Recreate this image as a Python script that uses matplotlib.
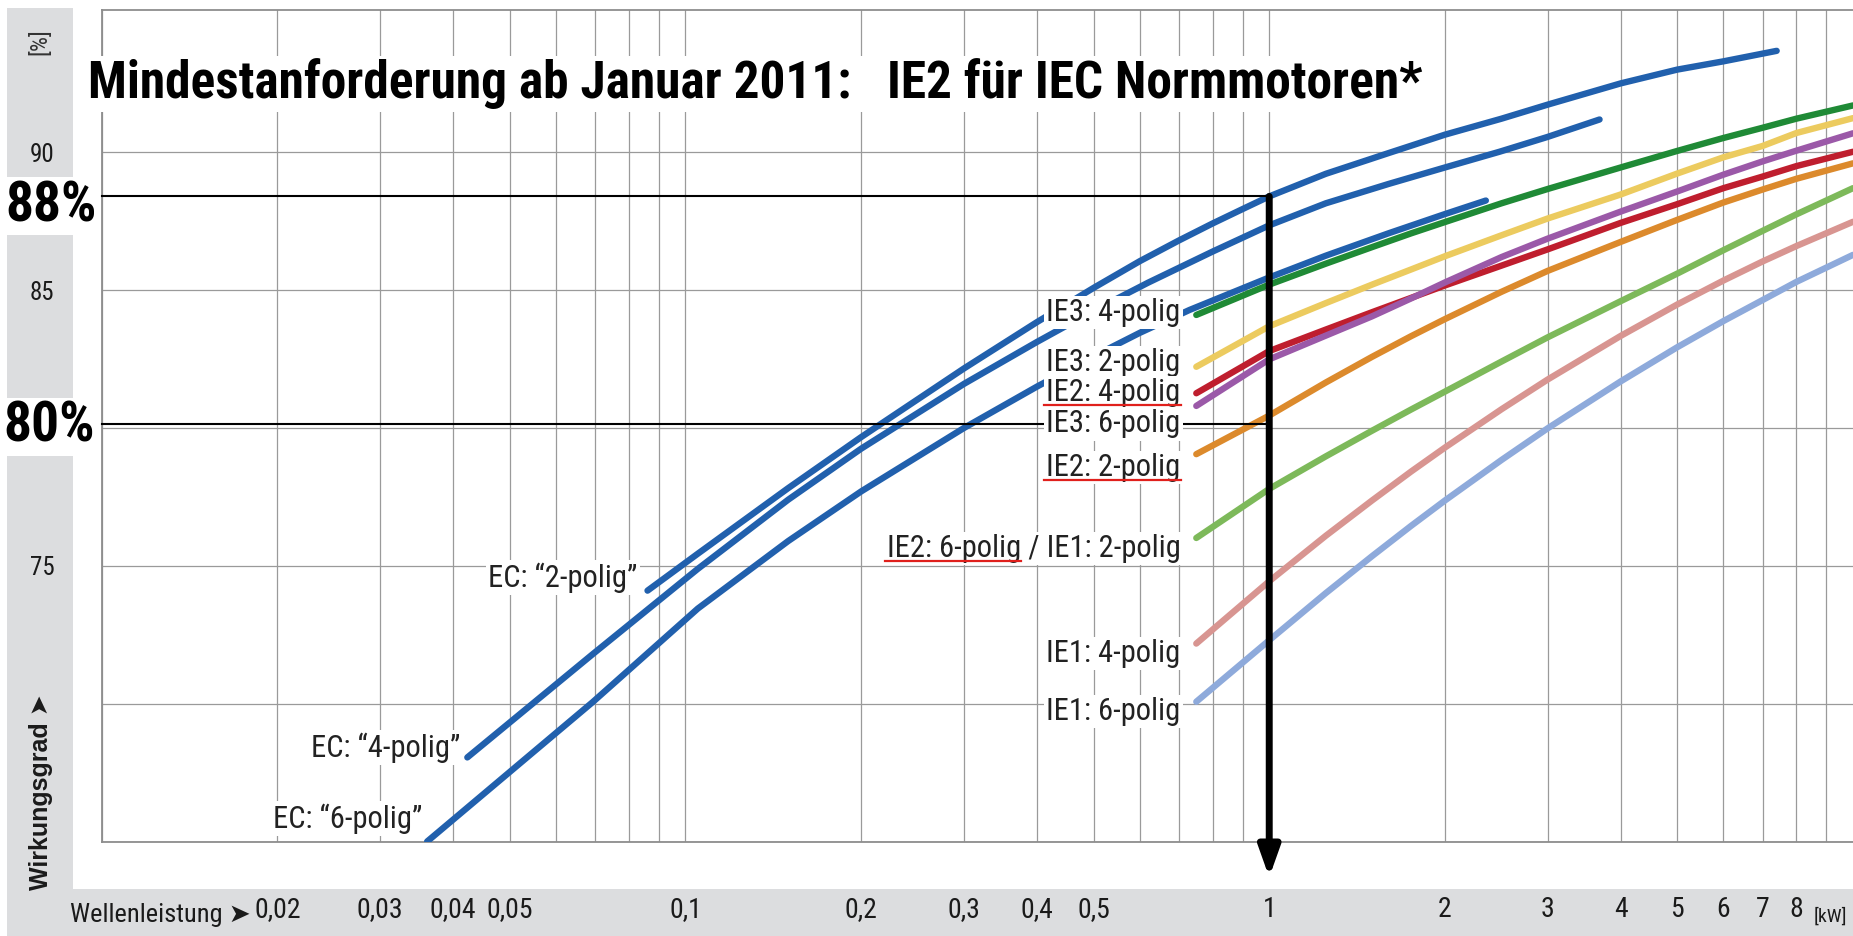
import numpy as np
import matplotlib
matplotlib.use('Agg')
import matplotlib.pyplot as plt
from matplotlib import font_manager as fm
from matplotlib.lines import Line2D
from matplotlib.patches import Rectangle
from matplotlib.transforms import IdentityTransform

# use a condensed face for the labels if one is installed
installed = {f.name for f in fm.fontManager.ttflist}
narrow = next((n for n in ['Liberation Sans Narrow', 'Roboto Condensed', 'DejaVu Sans Condensed']
               if n in installed), 'Liberation Sans')
plt.rcParams['font.family'] = [narrow, 'DejaVu Sans']

W, H, DPI = 1853, 936, 100

# ---- data: shaft power [kW] -> efficiency [%] ----
ec2_kw = [0.0861, 0.105, 0.15, 0.2, 0.3, 0.4, 0.5, 0.6, 0.7, 0.8, 0.9, 1.0, 1.25, 1.6, 2.0, 2.5, 3.0, 4.0, 5.0, 6.0, 7.4]
ec2_eff = [74.1, 75.44, 77.82, 79.67, 82.16, 83.84, 85.08, 86.05, 86.8, 87.42, 87.94, 88.4, 89.22, 89.97,
           90.64, 91.22, 91.73, 92.5, 93.0, 93.3, 93.68]

ec4_kw = [0.0423, 0.0694, 0.105, 0.15, 0.2, 0.3, 0.4, 0.5, 0.62, 0.8, 1.0, 1.25, 1.6, 2.0, 2.48, 3.0, 3.68]
ec4_eff = [68.05, 71.8, 74.89, 77.4, 79.25, 81.6, 83.12, 84.25, 85.27, 86.4, 87.35, 88.15, 88.85,
           89.45, 90.02, 90.56, 91.19]

ec6_kw = [0.0361, 0.0693, 0.105, 0.15, 0.2, 0.3, 0.4, 0.5, 0.6, 0.73, 1.0, 1.25, 1.6, 2.0, 2.35]
ec6_eff = [65.0, 70.05, 73.45, 75.9, 77.7, 80.0, 81.5, 82.6, 83.45, 84.28, 85.46, 86.25, 87.06,
           87.76, 88.25]

ie_kw = [0.75, 1.0, 1.25, 1.5, 1.75, 2.0, 2.5, 3.0, 4.0, 5.0, 6.0, 7.0, 8.0, 10.0]
ie3_4p = [84.1, 85.2, 85.96, 86.56, 87.06, 87.47, 88.15, 88.67, 89.45, 90.05, 90.52, 90.89, 91.22, 91.7]
ie3_2p = [82.22, 83.69, 84.53, 85.2, 85.75, 86.23, 86.99, 87.6, 88.47, 89.23, 89.82, 90.23, 90.7, 91.24]
ie2_4p = [81.26, 82.79, 83.57, 84.2, 84.72, 85.17, 85.89, 86.48, 87.44, 88.12, 88.7, 89.12, 89.5, 90.02]
ie3_6p = [80.8, 82.49, 83.35, 84.05, 84.7, 85.28, 86.2, 86.87, 87.85, 88.58, 89.19, 89.67, 90.06, 90.69]
ie2_2p = [79.05, 80.45, 81.65, 82.58, 83.33, 83.95, 84.94, 85.7, 86.75, 87.55, 88.18, 88.65, 89.04, 89.6]
ie2_6p = [76.01, 77.79, 78.97, 79.9, 80.67, 81.32, 82.41, 83.29, 84.6, 85.6, 86.45, 87.15, 87.75, 88.7]
ie1_4p = [72.18, 74.44, 76.09, 77.37, 78.42, 79.29, 80.68, 81.76, 83.34, 84.48, 85.35, 86.04, 86.6, 87.48]
ie1_6p = [70.07, 72.3, 74.01, 75.35, 76.45, 77.37, 78.84, 79.99, 81.69, 82.93, 83.88, 84.64, 85.3, 86.28]

ie_series = [ie3_4p, ie3_2p, ie2_4p, ie3_6p, ie2_2p, ie2_6p, ie1_4p, ie1_6p]
ie_names = ['IE3: 4-polig', 'IE3: 2-polig', 'IE2: 4-polig', 'IE3: 6-polig',
            'IE2: 2-polig', 'IE2: 6-polig / IE1: 2-polig', 'IE1: 4-polig', 'IE1: 6-polig']
ie_colors = ['#1f8a36', '#eccb5f', '#bf1e2e', '#9b59a8', '#dc8a2c', '#7db95a', '#d89591', '#8eaadb']

ec_names = ['EC: \u201c2-polig\u201d', 'EC: \u201c4-polig\u201d', 'EC: \u201c6-polig\u201d']

# reference levels and the 1 kW marker
level_vals = [88.4, 80.15]
level_texts = ['88%', '80%']
marker_kw = 1.0

x_tick_text = {0.02: '0,02', 0.03: '0,03', 0.04: '0,04', 0.05: '0,05', 0.1: '0,1', 0.2: '0,2',
               0.3: '0,3', 0.4: '0,4', 0.5: '0,5', 1.0: '1', 2.0: '2', 3.0: '3', 4.0: '4',
               5.0: '5', 6.0: '6', 7.0: '7', 8.0: '8'}
y_ticks = [65, 70, 75, 80, 85, 90]
y_tick_text = ['', '', '75', '', '85', '90']   # 80 sits under the "80%" box

# ---- figure ----
fig = plt.figure(figsize=(W / DPI, H / DPI), dpi=DPI, facecolor='white')
grey = '#dcdddf'
fig.add_artist(Rectangle((7 / W, 0), (73 - 7) / W, (H - 8) / H, transform=fig.transFigure,
                         fc=grey, ec='none', zorder=-2))
fig.add_artist(Rectangle((7 / W, 0), 1 - 7 / W, (H - 889) / H, transform=fig.transFigure,
                         fc=grey, ec='none', zorder=-2))

ax = fig.add_axes([101.7 / W, (H - 841.5) / H, (W - 101.7) / W, (841.5 - 9.5) / H])
ax.set_xscale('log')
ax.set_xlim(0.01, 10)
ax.set_ylim(65, 95.18)

x_grid = sorted({round(m * d, 3) for d in (0.01, 0.1, 1) for m in range(1, 10)})
ax.set_xticks(x_grid)
ax.set_xticklabels([x_tick_text.get(v, '') for v in x_grid])
ax.xaxis.set_minor_locator(matplotlib.ticker.NullLocator())
ax.set_yticks(y_ticks)
ax.set_yticklabels(y_tick_text)
ax.tick_params(axis='x', length=0, pad=39, labelsize=20, labelcolor='#1a1a1a')
ax.tick_params(axis='y', length=0, pad=34, labelsize=18, labelcolor='#1a1a1a')
ax.grid(True, color='#9a9a9a', lw=0.9, zorder=0)
ax.set_axisbelow(True)
for side in ['left', 'bottom', 'top']:
    ax.spines[side].set_color('#8d8d8d')
    ax.spines[side].set_linewidth(1.3)
ax.spines['right'].set_visible(False)

# curves
blue = '#2160ad'
for kw, eff in [(ec2_kw, ec2_eff), (ec4_kw, ec4_eff), (ec6_kw, ec6_eff)]:
    ax.plot(kw, eff, color=blue, lw=4.6, solid_capstyle='round', solid_joinstyle='round', zorder=3)
for eff, col in zip(ie_series, ie_colors):
    ax.plot(ie_kw, eff, color=col, lw=4.6, solid_capstyle='round', solid_joinstyle='round', zorder=3)

# reference lines and arrow at 1 kW
for v in level_vals:
    ax.plot([0.01, marker_kw], [v, v], color='black', lw=1.5, zorder=4, clip_on=False)
ax.annotate('', xy=(marker_kw, 63.7), xytext=(marker_kw, level_vals[0]),
            arrowprops=dict(arrowstyle='-|>,head_length=0.9,head_width=0.32', color='black',
                            lw=5, shrinkA=0, shrinkB=0, mutation_scale=20),
            annotation_clip=False, zorder=6)

# curve labels
lab_kw = 0.705
lab_y = [83.87, 82.07, 80.98, 79.84, 78.27, 75.32, 71.52, 69.41]
box = dict(fc='white', ec='none', pad=1.5)
lab_size = 22
ie_texts = []
for name, y in zip(ie_names, lab_y):
    t = ax.text(lab_kw, y, name, ha='right', va='baseline', fontsize=lab_size, color='#222222',
                bbox=box, zorder=5)
    ie_texts.append(t)

for name, (xk, y) in zip(ec_names, [(0.0828, 74.23), (0.0412, 68.08), (0.0354, 65.49)]):
    ax.text(xk, y, name, ha='right', va='baseline', fontsize=lab_size, color='#222222',
            bbox=box, zorder=5)

# texts outside the plot
fig.text(88 / W, 1 - 98.3 / H, 'Mindestanforderung ab Januar 2011:   IE2 f\u00fcr IEC Normmotoren*',
         fontsize=37, fontweight='bold', ha='left', va='baseline', color='black',
         bbox=dict(fc='white', ec='none', pad=2), zorder=8)
for txt, (xr, yb) in zip(level_texts, [(97, 221), (95, 442)]):
    fig.text(xr / W, 1 - yb / H, txt, fontsize=40, fontweight='bold', ha='right', va='baseline',
             bbox=dict(fc='white', ec='none', pad=2), zorder=8)
fig.text(40 / W, 1 - 42 / H, '[%]', rotation=90, fontsize=17, ha='center', va='center',
         color='#333333')
fig.text(40.8 / W, 1 - 890 / H, 'Wirkungsgrad \u27a4', rotation=90, fontsize=18,
         fontweight='bold', ha='center', va='bottom', color='#1a1a1a',
         family=['Liberation Sans', 'DejaVu Sans'])
fig.text(70 / W, 1 - 922 / H, 'Wellenleistung \u27a4', fontsize=19, ha='left', va='baseline',
         color='#1a1a1a')
fig.text(1830 / W, 1 - 922 / H, '[kW]', fontsize=14, ha='center', va='baseline', color='#1a1a1a')

# red underlines below the IE2 parts of the labels
fig.canvas.draw()
renderer = fig.canvas.get_renderer()
for t in ie_texts:
    s = t.get_text()
    if not s.startswith('IE2'):
        continue
    prefix = s.split(' / ')[0]
    tmp = fig.text(0, 0, prefix, fontsize=lab_size)
    w = tmp.get_window_extent(renderer).width
    tmp.remove()
    bb = t.get_window_extent(renderer)
    yb = ax.transData.transform(t.get_position())[1] - 4
    fig.add_artist(Line2D([bb.x0 - 2, bb.x0 + w], [yb, yb], transform=IdentityTransform(),
                          color='#e0201c', lw=1.6, zorder=9))

fig.savefig('out.png', dpi=DPI)
